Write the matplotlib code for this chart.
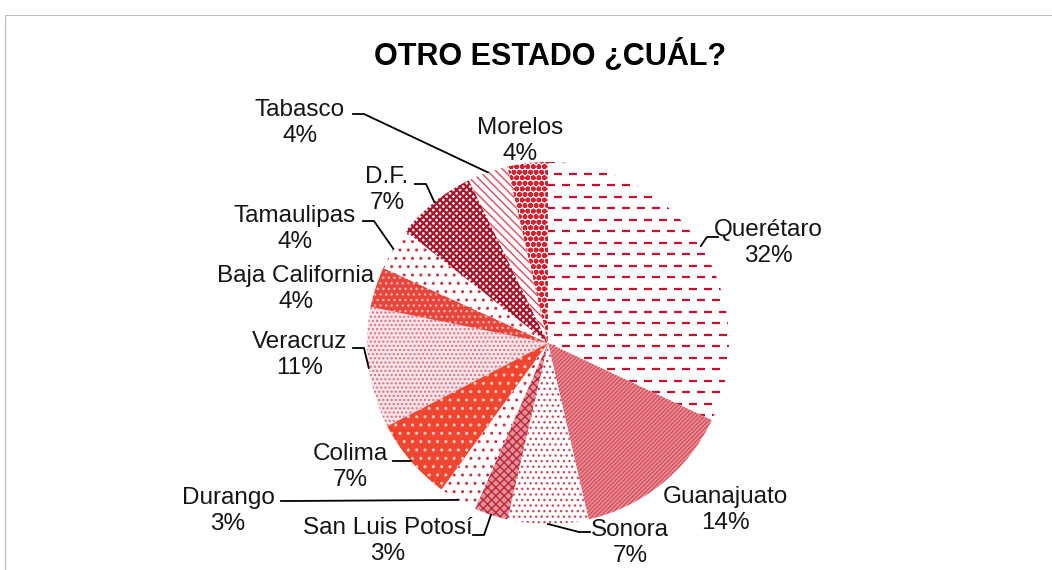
import matplotlib.pyplot as plt
import numpy as np
from matplotlib.collections import LineCollection
from matplotlib.patches import Rectangle

plt.rcParams['font.family'] = ['Liberation Sans', 'DejaVu Sans']
plt.rcParams['hatch.linewidth'] = 1.0

title = 'OTRO ESTADO ¿CUÁL?'
states = ['Querétaro', 'Guanajuato', 'Sonora', 'San Luis Potosí', 'Durango',
          'Colima', 'Veracruz', 'Baja California', 'Tamaulipas', 'D.F.',
          'Tabasco', 'Morelos']
shares = [32.0, 14.4, 7.2, 3.0, 3.4, 7.4, 10.8, 3.6, 3.8, 7.2, 3.6, 3.6]

W, H = 1052, 570
CX, CY, R = 548, 343, 181   # pie centre / radius in image pixels (y down)

# face colour, hatch colour, hatch pattern, hatch width
styles = [
    ('white', '#c8102e', '', 1.0),            # dashes drawn by hand below
    ('#eb8f96', '#d44a58', '////////', 0.9),
    ('white', '#c85060', '...', 1.0),
    ('#e8909a', '#b82838', 'xxxx', 1.0),
    ('white', '#c83848', '..', 1.0),
    ('#f0452f', '#fbd0c8', '..', 1.0),
    ('#fbe4e8', '#d87080', '....', 1.0),
    ('#e8443c', '#f8b4a8', '...', 1.0),
    ('white', '#c83848', '..', 1.0),
    ('white', '#a8142a', 'xxxxx', 1.6),
    ('white', '#e04a5a', '\\\\\\\\', 1.0),
    ('white', '#d8202e', 'ooo', 1.8),
]

# label block centre and leader start (None -> no leader), image pixels
label_xy = [(768, 243), (725, 510), (630, 543), (388, 541), (228, 511),
            (350, 467), (300, 355), (296, 289), (295, 229), (387, 190),
            (300, 123), (520, 141)]
leader_from = [(718, 237), None, (590, 532), (473, 535), (281, 501),
               (393, 461), (353, 348), None, (363, 221), (415, 184),
               (353, 114), None]


def flip(x, y):
    return x, H - y


fig = plt.figure(figsize=(W / 100, H / 100), dpi=100)
ax = fig.add_axes([0, 0, 1, 1])

wedges, _ = ax.pie(shares, center=flip(CX, CY), radius=R, startangle=90,
                   counterclock=False, frame=True)

for w, (fc, hc, hatch, hlw) in zip(wedges, styles):
    w.set_facecolor(fc)
    w.set_edgecolor(hc)
    w.set_linewidth(0)
    if hatch:
        w.set_hatch(hatch)
    if hasattr(w, 'set_hatch_linewidth'):
        w.set_hatch_linewidth(hlw)

# dashed texture for Querétaro
segs = []
for i, y in enumerate(np.arange(CY - R, CY + R, 11.5)):
    x0 = CX - R + (7 if i % 2 else 0)
    for x in np.arange(x0, CX + R, 15):
        segs.append([flip(x, y), flip(x + 8, y)])
lc = LineCollection(segs, colors='#c8102e', linewidths=1.6, zorder=3)
lc.set_clip_path(wedges[0])
ax.add_collection(lc)

# labels + leader lines
for w, name, share, pos, start in zip(wedges, states, shares, label_xy, leader_from):
    ax.text(*flip(*pos), f'{name}\n{round(share)}%', ha='center', va='center',
            fontsize=17.5, linespacing=1.2, color='#151515')
    if start is None:
        continue
    mid = np.deg2rad((w.theta1 + w.theta2) / 2)
    ex, ey = CX + R * np.cos(mid), CY - R * np.sin(mid)
    sx, sy = start
    hx = sx + 11 * np.sign(ex - sx)
    xs, ys = zip(*[flip(sx, sy), flip(hx, sy), flip(ex, ey)])
    ax.plot(xs, ys, color='black', lw=1.3, zorder=4)

ax.text(*flip(550, 55), title, ha='center', va='center', fontsize=22,
        fontweight='bold')

ax.add_patch(Rectangle(flip(5, H + 10), W + 20, H - 5, fill=False,
                       edgecolor='#bdbdbd', lw=0.8))

ax.set_xlim(0, W)
ax.set_ylim(0, H)
ax.set_aspect('equal')
ax.axis('off')

fig.savefig('out.png', dpi=100)
